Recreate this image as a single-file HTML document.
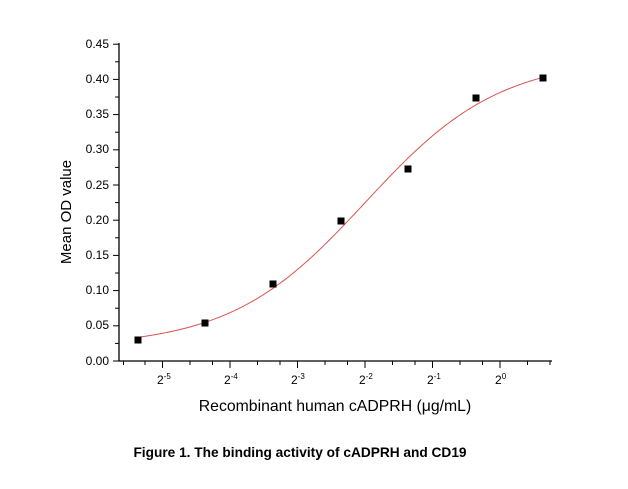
<!DOCTYPE html>
<html><head><meta charset="utf-8"><style>
html,body{margin:0;padding:0;background:#fff;}
svg{display:block;font-family:"Liberation Sans",Arial,sans-serif;}
</style></head><body>
<svg id="c" width="628" height="489" viewBox="0 0 628 489" xmlns="http://www.w3.org/2000/svg">
<g stroke="#000" stroke-width="1.3" fill="none">
<line x1="119" y1="43" x2="119" y2="361.5"/>
<line x1="118.5" y1="361" x2="552" y2="361"/>
</g>
<g id="yt" stroke="#000" stroke-width="1"></g>
<g id="xt" stroke="#000" stroke-width="1"></g>
<g font-size="12" text-anchor="end" fill="#000">
<text x="109" y="48">0.45</text>
<text x="109" y="83">0.40</text>
<text x="109" y="118">0.35</text>
<text x="109" y="153">0.30</text>
<text x="109" y="189">0.25</text>
<text x="109" y="224">0.20</text>
<text x="109" y="259">0.15</text>
<text x="109" y="294">0.10</text>
<text x="109" y="329">0.05</text>
<text x="109" y="365">0.00</text>
</g>
<g font-size="12" fill="#000">
<text x="157" y="384">2<tspan font-size="8" dy="-5">-5</tspan></text>
<text x="224" y="384">2<tspan font-size="8" dy="-5">-4</tspan></text>
<text x="291" y="384">2<tspan font-size="8" dy="-5">-3</tspan></text>
<text x="359" y="384">2<tspan font-size="8" dy="-5">-2</tspan></text>
<text x="427" y="384">2<tspan font-size="8" dy="-5">-1</tspan></text>
<text x="495" y="384">2<tspan font-size="8" dy="-5">0</tspan></text>
</g>
<text x="335" y="411" font-size="15.8" text-anchor="middle">Recombinant human cADPRH (μg/mL)</text>
<text transform="translate(71,212) rotate(-90)" font-size="15" text-anchor="middle">Mean OD value</text>
<text x="300" y="457" font-size="13.7" font-weight="bold" text-anchor="middle">Figure 1. The binding activity of cADPRH and CD19</text>
<path id="curve" fill="none" stroke="#d9534f" stroke-width="1"/>
<g fill="#000">
<rect x="134.5" y="336.5" width="7" height="7"/>
<rect x="201.5" y="319.5" width="7" height="7"/>
<rect x="269.5" y="280.5" width="7" height="7"/>
<rect x="337.5" y="217.5" width="7" height="7"/>
<rect x="404.5" y="165.5" width="7" height="7"/>
<rect x="472.5" y="94.5" width="7" height="7"/>
<rect x="539.5" y="74.5" width="7" height="7"/>
</g>
</svg>
<script>
var ns="http://www.w3.org/2000/svg";
function ln(g,x1,y1,x2,y2){var l=document.createElementNS(ns,"line");l.setAttribute("x1",x1);l.setAttribute("y1",y1);l.setAttribute("x2",x2);l.setAttribute("y2",y2);document.getElementById(g).appendChild(l);}
for(var i=0;i<=18;i++){var y=361-i*17.6;ln("yt",i%2?115:113,y,119,y);}
ln("xt",123.5,361,123.5,365);ln("xt",145,361,145,365);
for(var k=0;k<6;k++){var m=162.5+k*67.5;ln("xt",m,361,m,368);ln("xt",m+27.5,361,m+27.5,365);ln("xt",m+50,361,m+50,365);}
var d="";
for(var x=138;x<=543;x+=3){var t=-5+(x-163)/67.4;var v=0.02+0.41/(1+Math.exp(-(t+2)));var y=361-v*704.4;d+=(d?"L":"M")+x+","+y.toFixed(2);}
document.getElementById("curve").setAttribute("d",d);
</script>
</body></html>
